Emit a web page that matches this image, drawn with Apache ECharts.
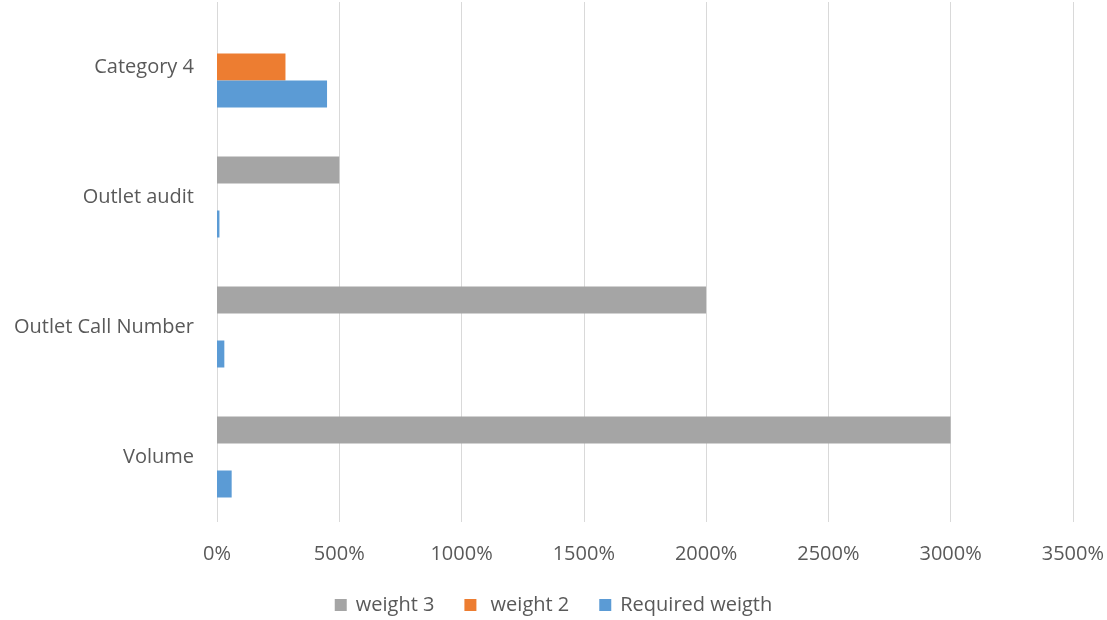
<!DOCTYPE html>
<html>
<head>
<meta charset="utf-8">
<title>Weights</title>
<script src="https://cdn.jsdelivr.net/npm/echarts@6/dist/echarts.min.js"></script>
<style>
  html, body { margin: 0; padding: 0; background: #fff; }
  #chart { width: 1107px; height: 620px; }
</style>
</head>
<body>
<div id="chart"></div>
<script>
// categories, bottom to top
const categories = ['Volume', 'Outlet Call Number', 'Outlet audit', 'Category 4'];
// values in percent
const weight3 = [3000, 2000, 500, 0];
const weight2 = [0, 0, 0, 280];
const requiredWeigth = [60, 30, 10, 450];
const xTicks = { min: 0, max: 3500, interval: 500 };

const textColor = '#595959';
const font = 'Open Sans';

let chart = echarts.init(document.getElementById('chart'));

const barStyle = (color) => ({ color: color });

const option = {
  animation: false,
  textStyle: { fontFamily: font },
  grid: { left: 217, right: 33, top: 2, bottom: 98, containLabel: false },
  legend: {
    bottom: 0,
    left: 'center',
    itemWidth: 12,
    itemHeight: 12,
    itemGap: 30,
    icon: 'rect',
    textStyle: { color: textColor, fontSize: 20, fontFamily: font, padding: [0, 0, 0, 4] },
    data: ['weight 3', ' weight 2', 'Required weigth']
  },
  xAxis: {
    type: 'value',
    min: xTicks.min,
    max: xTicks.max,
    interval: xTicks.interval,
    axisLine: { show: false },
    axisTick: { show: false },
    splitLine: { lineStyle: { color: '#d9d9d9', width: 1 } },
    axisLabel: {
      color: textColor,
      fontSize: 20,
      margin: 22,
      formatter: (v) => v + '%'
    }
  },
  yAxis: {
    type: 'category',
    data: categories,
    axisLine: { show: false },
    axisTick: { show: false },
    axisLabel: { color: textColor, fontSize: 20, margin: 23 }
  },
  series: [
    {
      name: 'weight 3',
      type: 'bar',
      data: weight3,
      itemStyle: barStyle('#a5a5a5'),
      barGap: '0%',
      barCategoryGap: '37.7%'
    },
    {
      name: ' weight 2',
      type: 'bar',
      data: weight2,
      itemStyle: barStyle('#ed7d31'),
      barGap: '0%',
      barCategoryGap: '37.7%'
    },
    {
      name: 'Required weigth',
      type: 'bar',
      data: requiredWeigth,
      itemStyle: barStyle('#5b9bd5'),
      barGap: '0%',
      barCategoryGap: '37.7%'
    }
  ]
};

chart.setOption(option);
</script>
</body>
</html>
